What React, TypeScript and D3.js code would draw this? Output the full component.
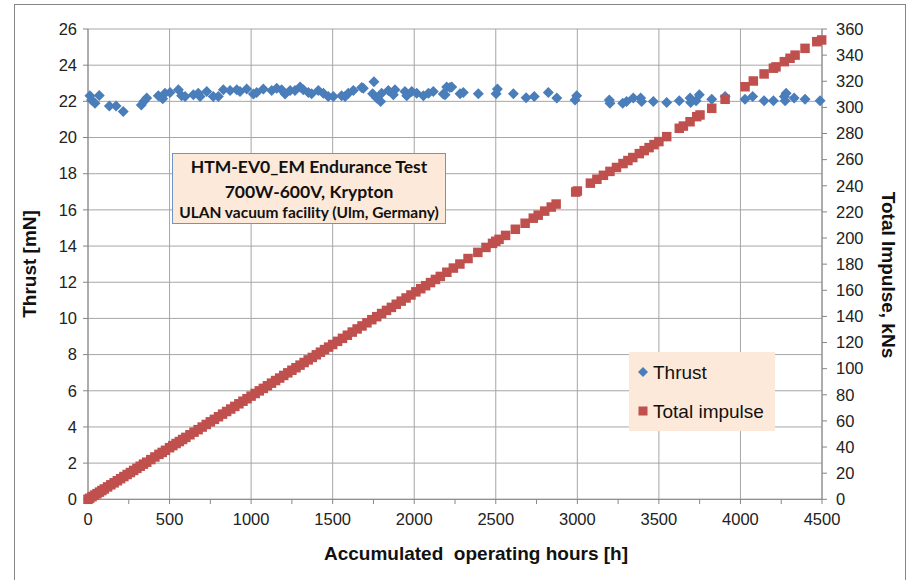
import React from "react";
import * as d3 from "d3";

const thrustHours = [12,22,43,69,131,172,216,327,343,360,431,458,472,503,554,574,595,646,676,687,728,768,799,830,871,912,932,973,1014,1034,1075,1126,1157,1187,1208,1239,1269,1300,1320,1351,1371,1412,1443,1473,1504,1555,1576,1596,1627,1678,1688,1745,1753,1770,1794,1800,1841,1872,1882,1943,1954,1985,2015,2056,2087,2117,2178,2189,2199,2219,2230,2281,2301,2393,2502,2510,2608,2686,2736,2822,2874,2986,2996,3196,3200,3278,3302,3343,3388,3394,3466,3548,3625,3691,3695,3728,3748,3824,3906,4028,4075,4145,4202,4269,4274,4280,4329,4396,4488];
const thrustValues = [22.31,22.08,21.9,22.32,21.75,21.75,21.44,21.8,22.0,22.18,22.31,22.14,22.45,22.49,22.64,22.31,22.27,22.36,22.45,22.27,22.55,22.27,22.27,22.64,22.6,22.64,22.55,22.68,22.4,22.49,22.68,22.6,22.73,22.64,22.4,22.6,22.6,22.79,22.64,22.49,22.42,22.6,22.45,22.27,22.27,22.31,22.27,22.45,22.6,22.77,22.73,22.42,23.08,22.18,21.99,22.45,22.6,22.36,22.64,22.55,22.31,22.55,22.45,22.31,22.45,22.55,22.4,22.36,22.79,22.77,22.79,22.42,22.49,22.42,22.42,22.68,22.42,22.2,22.27,22.49,22.18,22.08,22.31,22.08,21.9,21.9,21.99,22.18,22.18,21.99,21.99,21.93,22.04,22.18,21.93,22.04,22.36,22.12,22.27,22.12,22.27,22.04,22.04,22.27,22.04,22.45,22.18,22.12,22.04];

const impulseHours = [0,10,25,40,55,70,85,100,120,140,160,180,200,220,240,260,280,300,320,340,360,385,410,435,455,475,500,520,540,560,580,600,625,650,675,700,725,750,775,800,825,850,875,900,925,950,975,1000,1025,1050,1075,1100,1125,1150,1175,1200,1225,1250,1275,1300,1325,1350,1375,1400,1425,1450,1475,1500,1530,1560,1590,1620,1650,1680,1710,1740,1770,1800,1830,1860,1890,1920,1950,1980,2010,2040,2070,2100,2130,2160,2200,2240,2280,2330,2390,2440,2480,2500,2520,2560,2620,2680,2730,2760,2800,2840,2870,2990,3000,3080,3120,3160,3200,3240,3280,3310,3340,3380,3410,3440,3470,3500,3548,3625,3650,3691,3732,3752,3824,3906,4028,4079,4145,4202,4218,4269,4304,4335,4396,4468,4498];
const impulseValues = [0,0.8,2.0,3.2,4.3,5.5,6.7,7.9,9.5,11.1,12.6,14.2,15.8,17.4,19.0,20.5,22.1,23.7,25.3,26.9,28.4,30.4,32.4,34.4,35.9,37.5,39.5,41.1,42.7,44.2,45.8,47.4,49.4,51.4,53.3,55.3,57.3,59.3,61.2,63.2,65.2,67.2,69.1,71.1,73.1,75.1,77.0,79.0,81.0,83.0,84.9,86.9,88.9,90.9,92.8,94.8,96.8,98.8,100.7,102.7,104.7,106.7,108.6,110.6,112.6,114.6,116.5,118.5,120.9,123.2,125.6,128.0,130.4,132.7,135.1,137.5,139.8,142.2,144.6,146.9,149.3,151.7,154.1,156.4,158.8,161.2,163.5,165.9,168.3,170.6,173.8,177.0,180.1,184.3,189,192.8,195.9,197.5,199,202,206.7,211.3,215.2,217.5,220.6,223.7,226,235.2,236,242,245,248,251,254,257,259.3,261.6,264.6,266.9,269.2,271.5,273.8,277.6,284,285.7,289,292.9,294.2,299.3,306.2,315.8,320.2,325.6,330,331,335,337.6,340,345.2,350.3,351.6];

const xTicks = [0,500,1000,1500,2000,2500,3000,3500,4000,4500];
const xMinorTicks = [0,250,500,750,1000,1250,1500,1750,2000,2250,2500,2750,3000,3250,3500,3750,4000,4250,4500];
const leftTicks = [0,2,4,6,8,10,12,14,16,18,20,22,24,26];
const rightTicks = [0,20,40,60,80,100,120,140,160,180,200,220,240,260,280,300,320,340,360];

const boxLines = ["HTM-EV0_EM Endurance Test", "700W-600V, Krypton", "ULAN vacuum facility (Ulm, Germany)"];
const legendLabels = ["Thrust", "Total impulse"];

const BLUE = "#4a7ebb";
const RED = "#c0504d";
const GRID = "#a6a6a6";
const AXIS = "#868686";

export default function App() {
  const x = d3.scaleLinear().domain([0, 4500]).range([88, 822]);
  const yL = d3.scaleLinear().domain([0, 26]).range([499.3, 29]);
  const yR = d3.scaleLinear().domain([0, 360]).range([499.3, 29]);
  const diamond = (cx: number, cy: number, r: number) =>
    `M${cx},${cy - r}L${cx + r},${cy}L${cx},${cy + r}L${cx - r},${cy}Z`;
  const font = "'Liberation Sans', Arial, sans-serif";
  const boxFont = "Lato, 'Open Sans', sans-serif";
  return (
    <svg width={911} height={580} style={{ position: "absolute", left: 0, top: 0, display: "block" }}>
      <rect x={0} y={0} width={911} height={580} fill="#fff" />
      <rect x={14.5} y={4.5} width={891} height={600} fill="none" stroke={AXIS} strokeWidth={1} />
      {/* grid */}
      {leftTicks.map((t) => (
        <line key={"h" + t} x1={88} x2={822} y1={yL(t)} y2={yL(t)} stroke={GRID} strokeWidth={1} />
      ))}
      {xTicks.map((t) => (
        <line key={"v" + t} x1={x(t)} x2={x(t)} y1={29} y2={499.3} stroke={GRID} strokeWidth={1} />
      ))}
      {/* axes */}
      <line x1={88} x2={88} y1={29} y2={499.3} stroke={AXIS} />
      <line x1={822} x2={822} y1={29} y2={499.3} stroke={AXIS} />
      <line x1={88} x2={822} y1={499.3} y2={499.3} stroke={AXIS} />
      {leftTicks.map((t) => (
        <g key={"lt" + t}>
          <line x1={83} x2={88} y1={yL(t)} y2={yL(t)} stroke={AXIS} />
          <text x={77} y={yL(t)} dy="0.35em" textAnchor="end" fontFamily={font} fontSize={16.5} fill="#222">{t}</text>
        </g>
      ))}
      {rightTicks.map((t) => (
        <g key={"rt" + t}>
          <line x1={822} x2={827} y1={yR(t)} y2={yR(t)} stroke={AXIS} />
          <text x={836} y={yR(t)} dy="0.35em" textAnchor="start" fontFamily={font} fontSize={16.5} fill="#222">{t}</text>
        </g>
      ))}
      {xMinorTicks.map((t) => (
        <line key={"xt" + t} x1={x(t)} x2={x(t)} y1={499.3} y2={504} stroke={AXIS} />
      ))}
      {xTicks.map((t) => (
        <text key={"xl" + t} x={x(t)} y={525} textAnchor="middle" fontFamily={font} fontSize={16.5} fill="#222">{t}</text>
      ))}
      {/* axis titles */}
      <text x={476} y={560} textAnchor="middle" fontFamily={font} fontSize={19} fontWeight="bold" fill="#111" style={{ whiteSpace: "pre" }}>
        {"Accumulated  operating hours [h]"}
      </text>
      <text transform="translate(36,264) rotate(-90)" textAnchor="middle" fontFamily={font} fontSize={19} fontWeight="bold" fill="#111">Thrust [mN]</text>
      <text transform="translate(882,275) rotate(90)" textAnchor="middle" fontFamily={font} fontSize={19} fontWeight="bold" fill="#111">Total Impulse, kNs</text>
      {/* thrust */}
      {thrustHours.map((h, i) => (
        <path key={"th" + i} d={diamond(x(h), yL(thrustValues[i]), 5.5)} fill={BLUE} />
      ))}
      {/* impulse */}
      {impulseHours.map((h, i) => (
        <rect key={"im" + i} x={x(h) - 4.75} y={yR(impulseValues[i]) - 4.75} width={9.5} height={9.5} fill={RED} />
      ))}
      {/* text box */}
      <rect x={172.5} y={153.5} width={273} height={70} fill="#fde9d9" stroke="#6f93c8" strokeWidth={1} />
      <text x={309} y={167} dy="0.35em" textAnchor="middle" fontFamily={boxFont} fontWeight="bold" fontSize={17.5} fill="#111">{boxLines[0]}</text>
      <text x={309} y={192} dy="0.35em" textAnchor="middle" fontFamily={boxFont} fontWeight="bold" fontSize={17.5} fill="#111">{boxLines[1]}</text>
      <text x={309} y={213} dy="0.35em" textAnchor="middle" fontFamily={boxFont} fontWeight="bold" fontSize={15.5} fill="#111">{boxLines[2]}</text>
      {/* legend */}
      <rect x={629} y={352} width={146} height={79} fill="#fde9d9" />
      <path d={diamond(643, 372, 5)} fill={BLUE} />
      <rect x={638.5} y={406.5} width={9} height={9} fill={RED} />
      <text x={653} y={372} dy="0.35em" fontFamily={font} fontSize={19} fill="#111">{legendLabels[0]}</text>
      <text x={653} y={411} dy="0.35em" fontFamily={font} fontSize={19} fill="#111">{legendLabels[1]}</text>
    </svg>
  );
}
